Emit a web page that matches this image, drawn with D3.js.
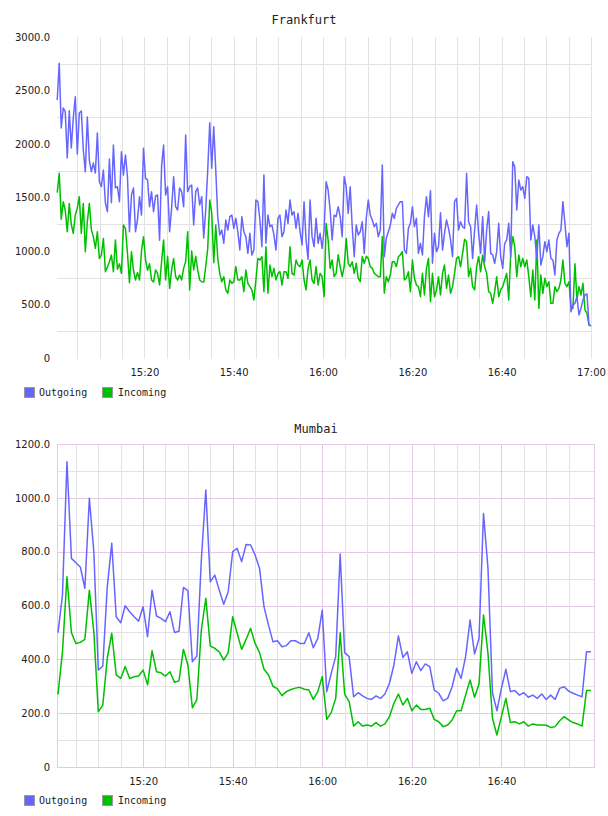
<!DOCTYPE html>
<html>
<head>
<meta charset="utf-8">
<script src="https://cdn.jsdelivr.net/npm/d3@7"></script>
<style>
body { margin: 0; background: #fff; }
</style>
</head>
<body>
<svg id="chart" width="608" height="816"></svg>
<script>

//// DATA

// Frankfurt: first and last sample time, samples are evenly spaced
var frankfurtStart = "15:00:30";
var frankfurtEnd = "17:00:00";

var frankfurtOutgoing = [
    2411,2754,2150,2336,2302,1869,2311,1963,2243,2442,1907,2290,2308,1944,1741,2252,1850,1741,1822,1729,
    2103,1648,1601,1757,1449,1368,1860,1452,1991,1589,1601,1461,1928,1710,1897,1694,1180,1523,1589,1180,
    1290,1508,1336,1960,1679,1664,1414,1554,1368,1514,1523,1100,1788,1991,1523,1601,1180,1402,1694,1414,
    1383,1589,1554,1414,2084,1554,1601,1617,1243,1554,1589,1430,
    1508,1121,1383,1757,2199,1773,2162,1757,1321,1150,1196,1072,1290,1196,1321,1336,1212,1305,1180,1009,
    1321,1180,1134,978,1165,962,1009,1477,1461,1290,1040,1710,1072,1336,1227,1243,1150,1009,1305,1336,
    1134,1180,1383,1258,1477,1336,1367,1212,1352,1180,1056,1461,1103,922,1477,1134,1040,1305,1072,1165,
    1025,1196,1648,1570,1383,1103,1336,1321,1414,1321,1134,1694,1601,1352,1601,1227,947,1243,1150,1180,
    1274,978,1305,1477,1336,1290,1227,1258,1134,1196,1804,947,1121,1180,1243,1352,1305,1398,1430,1461,
    1461,1009,978,1212,1259,1414,1227,1305,978,1072,963,1321,1508,1321,1564,885,1165,994,1040,1358,
    1009,1165,1290,1212,1103,947,1461,1492,1196,1274,1227,1212,1726,1274,1227,931,1196,1430,1165,978,
    1321,900,1196,1368,978,963,885,994,1259,947,838,1072,1103,1259,947,1835,1788,1383,1664,1570,
    1601,1492,1695,1679,1103,1243,1134,931,1243,869,947,1087,994,1103,931,916,776,1103,1165,1196,
    1461,1259,1040,1165,433,495,511,573,402,464,542,589,598,308,302
];

var frankfurtIncoming = [
    1545,1726,1296,1461,1380,1180,1445,1250,1165,1336,1400,1508,1165,1445,993,1274,1445,1200,1134,1025,
    1180,931,960,1118,807,850,900,962,807,1103,830,880,791,1243,1210,980,704,993,820,729,
    800,729,1000,1134,920,820,880,729,710,823,790,683,900,1103,729,950,651,823,930,760,
    729,775,729,840,900,1180,636,1000,823,950,823,729,
    713,710,854,1025,1477,1352,891,1243,931,791,713,760,636,605,729,698,713,854,729,729,
    760,620,822,698,667,636,542,729,931,916,947,620,1040,605,869,760,838,729,791,807,
    682,807,807,744,1040,791,775,916,869,854,916,729,636,838,916,729,698,854,682,791,
    760,573,1258,1103,838,916,760,791,965,854,760,854,1118,885,854,900,791,885,745,713,
    947,885,950,931,854,838,791,776,760,760,1134,605,760,713,776,900,900,854,947,965,
    994,729,745,807,620,916,745,682,667,573,791,589,838,931,526,791,573,636,760,589,
    791,869,651,776,604,667,791,931,947,853,978,1109,1087,760,838,667,636,853,947,807,
    963,853,791,620,604,511,620,760,573,636,667,729,791,542,978,1134,1040,760,963,853,
    931,853,916,760,573,822,542,1103,464,776,604,745,667,713,511,511,667,620,651,729,
    916,698,667,713,480,464,880,542,667,589,698,449,418,308,302
];

var frankfurtYTicks = [0, 500, 1000, 1500, 2000, 2500, 3000];
var frankfurtYGrid = [250, 750, 1250, 1750, 2250, 2750];
var frankfurtXTicks = ["15:20", "15:40", "16:00", "16:20", "16:40", "17:00"];

// Mumbai: one sample per minute
var mumbaiStart = "15:01";
var mumbaiEnd = "17:00";

var mumbaiOutgoing = [
    499,639,1134,775,759,742,664,998,800,360,375,670,831,558,536,599,577,558,542,595,
    484,657,561,552,540,577,500,504,667,655,391,412,769,1029,688,713,657,605,651,800,
    812,763,827,825,788,738,595,527,465,469,447,451,469,469,459,459,499,443,478,583,
    280,348,410,791,425,410,261,276,264,255,251,264,255,271,311,379,487,407,428,348,
    391,358,383,373,286,274,246,255,298,367,329,410,546,420,478,942,738,276,209,292,
    363,280,284,267,276,259,267,255,271,251,267,251,292,298,282,274,267,261,428,428
];

var mumbaiIncoming = [
    270,428,707,499,459,463,474,657,503,205,230,404,497,342,329,373,329,335,338,360,
    305,432,354,350,338,354,315,320,437,379,220,250,509,627,449,441,428,397,425,558,
    497,437,474,515,459,425,363,342,300,290,265,280,288,293,296,289,286,251,280,336,
    177,202,255,499,271,243,152,168,152,156,152,165,152,160,187,237,271,230,255,209,
    230,214,214,218,177,168,150,156,175,209,209,267,323,259,308,565,422,181,119,187,
    255,165,168,160,168,152,160,156,156,155,147,150,172,187,175,165,160,152,284,284
];

var mumbaiYTicks = [0, 200, 400, 600, 800, 1000, 1200];
var mumbaiYGrid = [100, 200, 300, 400, 500, 600, 700, 800, 900, 1000, 1100];
var mumbaiXTicks = ["15:20", "15:40", "16:00", "16:20", "16:40"];

var seriesNames = ["Outgoing", "Incoming"];

// Colours
var blue = "#6666ff";
var green = "#00bf00";
var greyGrid = "#e3e3e3";
var purpleGrid = "#e3c9e3";

var monoFont = "'DejaVu Sans Mono', monospace";
var labelFont = "'DejaVu Sans', sans-serif";


//// MAIN

var svg = d3.select("#chart");

drawChart({
    title: "Frankfurt", titleX: 304, titleY: 24,
    outgoing: frankfurtOutgoing, incoming: frankfurtIncoming,
    start: frankfurtStart, end: frankfurtEnd,
    axisStart: "15:00", axisEnd: "17:00", xRange: [55, 591],
    yMax: 3000, yRange: [358, 37],
    yTicks: frankfurtYTicks, yGrid: frankfurtYGrid, xTicks: frankfurtXTicks,
    gridFrom: "15:05", gridTo: "17:00",
    plotLeft: 57, plotRight: 592, plotTop: 37, plotBottom: 359,
    frame: false, legendY: 387
});

drawChart({
    title: "Mumbai", titleX: 316, titleY: 433,
    outgoing: mumbaiOutgoing, incoming: mumbaiIncoming,
    start: mumbaiStart, end: mumbaiEnd,
    axisStart: "15:01", axisEnd: "17:00", xRange: [58, 591],
    yMax: 1200, yRange: [767, 444],
    yTicks: mumbaiYTicks, yGrid: mumbaiYGrid, xTicks: mumbaiXTicks,
    gridFrom: "15:05", gridTo: "16:55",
    plotLeft: 57, plotRight: 594, plotTop: 444, plotBottom: 767,
    frame: true, legendY: 795
});


//// FUNCTIONS

///////////////////////////////////
// "HH:MM[:SS]" to a Date
function toTime(s){
///////////////////////////////////
    var p = s.split(":");
    return new Date(2020, 0, 1, +p[0], +p[1], +(p[2] || 0));
}

///////////////////////////////////
// One chart with grid, axes, two lines and legend
function drawChart(cfg){
///////////////////////////////////

    var g = svg.append("g");

    var x = d3.scaleTime()
        .domain([toTime(cfg.axisStart), toTime(cfg.axisEnd)])
        .range(cfg.xRange);
    var y = d3.scaleLinear().domain([0, cfg.yMax]).range(cfg.yRange);

    // evenly spaced sample times between first and last sample
    var t0 = toTime(cfg.start).getTime(), t1 = toTime(cfg.end).getTime();
    var n = cfg.outgoing.length;
    var times = d3.range(n).map(function(i){ return new Date(t0 + (t1 - t0) * i / (n - 1)); });

    // Major lines (labelled) are purple only in the framed chart
    var yMajor = function(d){ return cfg.frame && cfg.yTicks.indexOf(d) >= 0; };
    var xMajor = function(d){ return cfg.frame && d.getMinutes() % 20 == 0; };

    // horizontal grid
    g.selectAll(".hgrid").data(cfg.yGrid).enter().append("line")
        .attr("x1", cfg.plotLeft).attr("x2", cfg.plotRight)
        .attr("y1", function(d){ return Math.round(y(d)) + 0.5; })
        .attr("y2", function(d){ return Math.round(y(d)) + 0.5; })
        .attr("stroke", function(d){ return yMajor(d) ? purpleGrid : greyGrid; });

    // vertical grid, every 5 minutes
    var vgrid = d3.timeMinute.every(5).range(toTime(cfg.gridFrom), new Date(toTime(cfg.gridTo).getTime() + 1));
    g.selectAll(".vgrid").data(vgrid).enter().append("line")
        .attr("x1", function(d){ return Math.round(x(d)) + 0.5; })
        .attr("x2", function(d){ return Math.round(x(d)) + 0.5; })
        .attr("y1", cfg.plotTop).attr("y2", cfg.plotBottom)
        .attr("stroke", function(d){ return xMajor(d) ? purpleGrid : greyGrid; });

    if (cfg.frame){
        g.append("rect")
            .attr("x", cfg.plotLeft + 0.5).attr("y", cfg.plotTop + 0.5)
            .attr("width", cfg.plotRight - cfg.plotLeft).attr("height", cfg.plotBottom - cfg.plotTop)
            .attr("fill", "none").attr("stroke", purpleGrid);
    }

    // y axis labels
    var yAxis = d3.axisLeft(y).tickValues(cfg.yTicks).tickSize(0).tickPadding(7)
        .tickFormat(function(d){ return d == 0 ? "0" : d.toFixed(1); });
    g.append("g").attr("transform", "translate(" + cfg.plotLeft + ",0)").call(yAxis)
        .attr("font-family", labelFont).attr("font-size", 10)
        .call(function(a){ a.select(".domain").remove(); })
        .selectAll("text").attr("fill", "#222");

    // x axis labels
    var xAxis = d3.axisBottom(x).tickValues(cfg.xTicks.map(toTime)).tickSize(0).tickPadding(11)
        .tickFormat(d3.timeFormat("%H:%M"));
    g.append("g").attr("transform", "translate(0," + cfg.yRange[0] + ")").call(xAxis)
        .attr("font-family", labelFont).attr("font-size", 10)
        .call(function(a){ a.select(".domain").remove(); })
        .selectAll("text").attr("fill", "#222");

    // lines
    var line = d3.line()
        .x(function(d, i){ return x(times[i]); })
        .y(function(d){ return y(d); });

    [[cfg.incoming, green], [cfg.outgoing, blue]].forEach(function(s){
        g.append("path").datum(s[0])
            .attr("d", line)
            .attr("fill", "none")
            .attr("stroke", s[1])
            .attr("stroke-width", 1.5)
            .attr("stroke-linejoin", "round");
    });

    // title
    g.append("text")
        .attr("x", cfg.titleX).attr("y", cfg.titleY)
        .attr("text-anchor", "middle")
        .attr("font-family", monoFont)
        .attr("font-size", 12).attr("fill", "#222")
        .text(cfg.title);

    // legend
    var legendX = [24, 102];
    var leg = g.selectAll(".legend").data(seriesNames).enter().append("g")
        .attr("transform", function(d, i){ return "translate(" + legendX[i] + "," + cfg.legendY + ")"; });
    leg.append("rect")
        .attr("x", 0.5).attr("y", 0.5).attr("width", 10).attr("height", 10)
        .attr("fill", function(d, i){ return i == 0 ? blue : green; })
        .attr("stroke", "#999");
    leg.append("text")
        .attr("x", function(d, i){ return i == 0 ? 15 : 16; }).attr("y", 9)
        .attr("font-family", monoFont)
        .attr("font-size", 10).attr("fill", "#222")
        .text(function(d){ return d; });
}

</script>
</body>
</html>
